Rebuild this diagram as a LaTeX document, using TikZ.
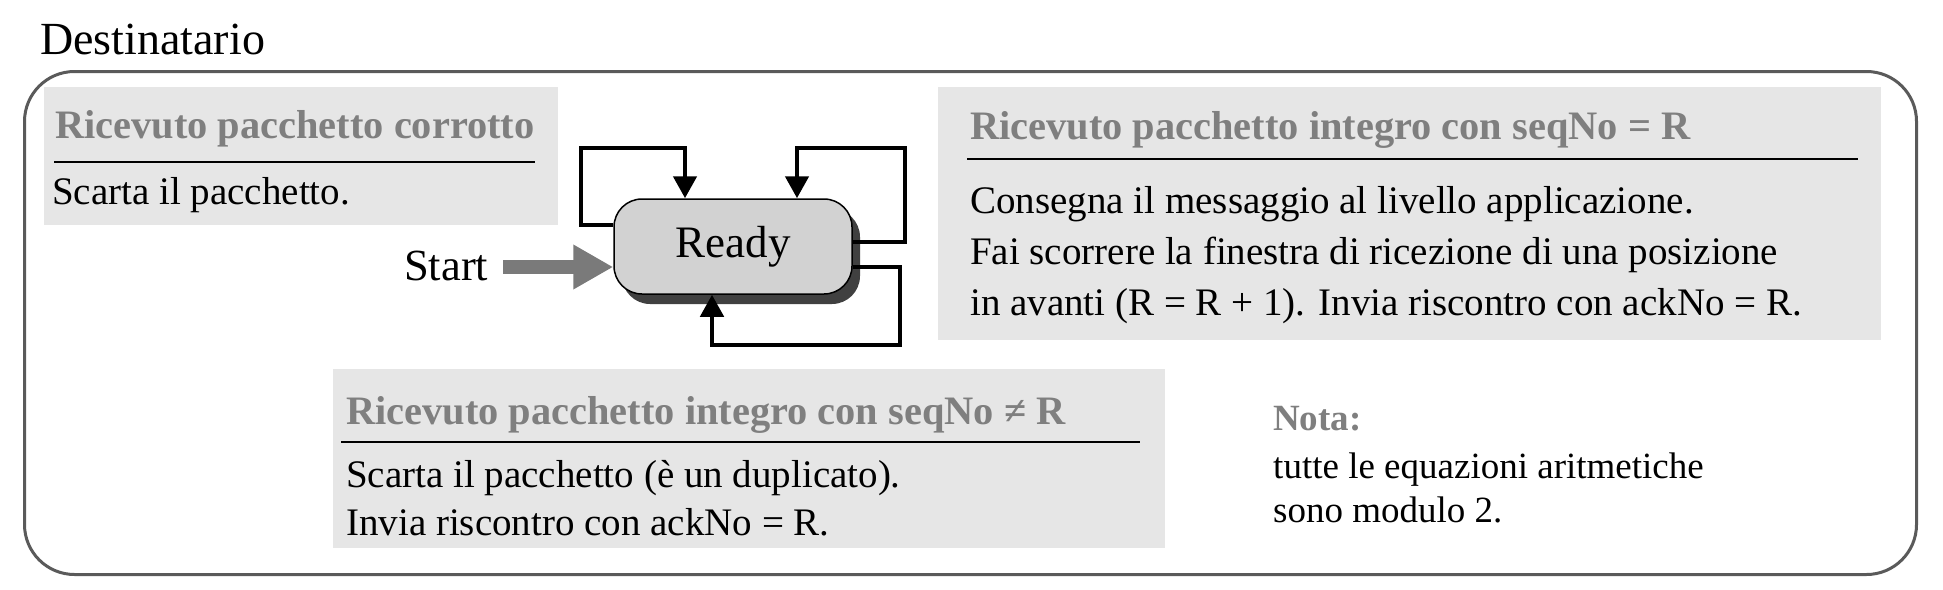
\documentclass[tikz,border=0pt]{standalone}
\usepackage{fontspec}
\setmainfont{Liberation Serif}
\usetikzlibrary{arrows.meta,shadows}
\definecolor{boxgray}{HTML}{E6E6E6}
\definecolor{titlegray}{HTML}{7F7F7F}
\definecolor{framegray}{HTML}{5A5A5A}
\definecolor{readyfill}{HTML}{D2D2D2}
\definecolor{shadowgray}{HTML}{404040}
\definecolor{startgray}{HTML}{7A7A7A}
\begin{document}
\begin{tikzpicture}[x=1pt,y=-1pt,
  body/.style={anchor=base west, inner sep=0pt, font=\fontsize{39}{47}\selectfont},
  ttl/.style={anchor=base west, inner sep=0pt, font=\fontsize{40.4}{48}\selectfont\bfseries, text=titlegray},
  notebody/.style={anchor=base west, inner sep=0pt, font=\fontsize{37}{44}\selectfont},
  notettl/.style={anchor=base west, inner sep=0pt, font=\fontsize{37}{44}\selectfont\bfseries, text=titlegray},
  panel/.style={fill=boxgray, draw=none, anchor=north west, inner sep=0pt},
  rulel/.style={line width=2.5pt, black},
  loopline/.style={line width=4.6pt, -{Triangle[width=23pt,length=22pt]}},
]
\useasboundingbox (0,0) rectangle (1943,589);
% title
\node[anchor=base west, inner sep=0pt, font=\fontsize{46}{55}\selectfont] (dest) at (40,54) {Destinatario};
% outer frame
\node[draw=framegray, line width=3pt, rounded corners=50pt, minimum width=1892pt, minimum height=503pt, anchor=north west, inner sep=0pt] (frame) at (23,70) {};
% panels
\node[panel, minimum width=514pt, minimum height=138pt] (p1) at (44,87) {};
\node[panel, minimum width=943pt, minimum height=253pt] (p2) at (938,87) {};
\node[panel, minimum width=832pt, minimum height=179pt] (p3) at (333,369) {};
% panel 1
\node[ttl] (t1) at (55,138) {Ricevuto pacchetto corrotto};
\draw[rulel] (54,162) -- (535,162);
\node[body] (b1a) at (52,204) {Scarta il pacchetto.};
% panel 2
\node[ttl] (t2) at (970,139) {Ricevuto pacchetto integro con seqNo = R};
\draw[rulel] (967,159) -- (1858,159);
\node[body] (b2a) at (970,213) {Consegna il messaggio al livello applicazione.};
\node[body] (b2b) at (970,264) {Fai scorrere la finestra di ricezione di una posizione};
\node[body] (b2c) at (970,315) {in avanti (R = R + 1). Invia riscontro con ackNo = R.};
% panel 3
\node[ttl] (t3) at (346,424) {Ricevuto pacchetto integro con seqNo ≠ R};
\draw[rulel] (341,442) -- (1140,442);
\node[body] (b3a) at (346,487) {Scarta il pacchetto (è un duplicato).};
\node[body] (b3b) at (346,535) {Invia riscontro con ackNo = R.};
% note
\node[notettl] (n0) at (1273,430) {Nota:};
\node[notebody] (n1) at (1273,478) {tutte le equazioni aritmetiche};
\node[notebody] (n2) at (1273,522) {sono modulo 2.};
% state
\node[draw=black, line width=1.5pt, fill=readyfill, rounded corners=28pt,
      minimum width=238pt, minimum height=95pt, inner sep=0pt,
      font=\fontsize{45}{54}\selectfont,
      general shadow={fill=shadowgray, shadow xshift=8pt, shadow yshift=-10pt}] (ready) at (733,246.5) {Ready};
\node[anchor=base west, inner sep=0pt, font=\fontsize{44.5}{53}\selectfont] (start) at (404,280) {Start};
\coordinate (s0) at (503,267);
\draw[startgray, line width=14pt, -{Triangle[width=42pt,length=40pt]}] (s0) -- ([yshift=-20.5pt]ready.west);
% loops
\coordinate (c1) at (581,148);
\coordinate (c2) at (905,148);
\coordinate (c3) at (900,345);
\draw[loopline] ([yshift=21.5pt]ready.west) -| (c1) -| ([xshift=-48pt]ready.north);
\draw[loopline] ([yshift=4.5pt]ready.east) -| (c2) -| ([xshift=64pt]ready.north);
\draw[loopline] ([yshift=-20.5pt]ready.east) -| (c3) -| ([xshift=-21pt]ready.south);
\end{tikzpicture}
\end{document}
